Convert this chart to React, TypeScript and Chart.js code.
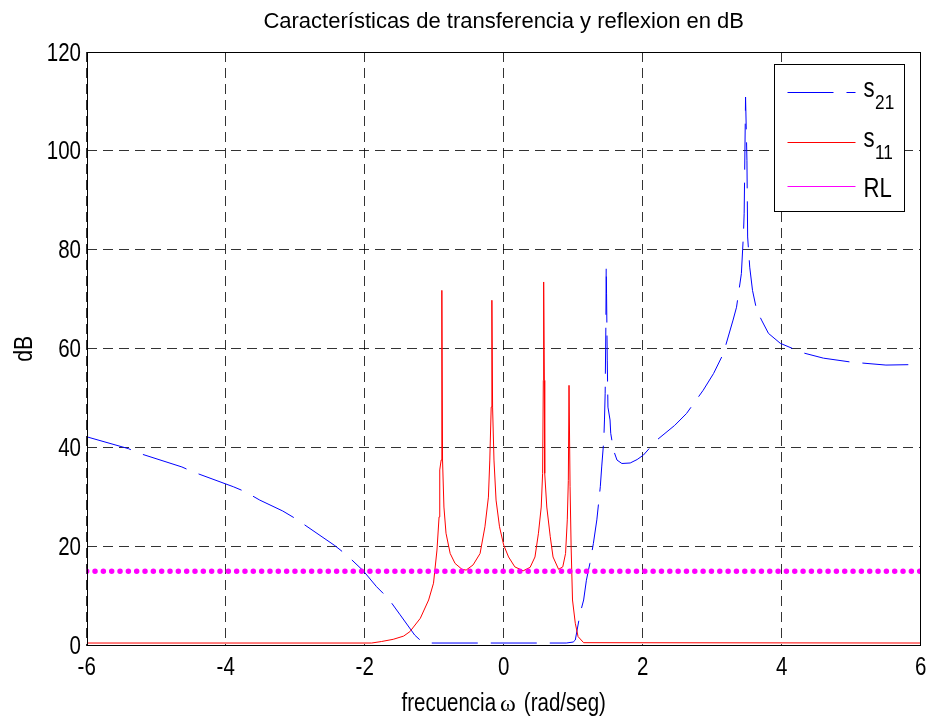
import { useEffect, useRef } from "react";
import { Chart, registerables } from "chart.js";

Chart.register(...registerables);

// Frequency axis (rad/seg) and dB values for each curve
const s21Freq = [
  -6.0, -5.4, -5.23, -4.63, -4.47, -3.89, -3.72, -3.51, -3.18, -3.0, -2.43, -2.26, -2.02, -1.83,
  -1.66, -1.49, -1.28, -1.18, -1.08, 0.9, 1.0, 1.03, 1.1, 1.15, 1.19, 1.24, 1.29, 1.34, 1.39, 1.41,
  1.44, 1.45, 1.46, 1.47, 1.475, 1.48, 1.49, 1.5, 1.53, 1.54, 1.58, 1.63, 1.7, 1.82, 1.92, 2.01,
  2.2, 2.46, 2.63, 2.87, 3.02, 3.16, 3.3, 3.35, 3.42, 3.45, 3.46, 3.48, 3.5, 3.51, 3.54, 3.58,
  3.64, 3.71, 3.81, 3.98, 4.3, 4.6, 5.0, 5.5, 5.9, 6.0,
];
const s21Db = [
  42.2, 39.8, 38.8, 36.1, 35.1, 32.1, 31.1, 29.4, 27.2, 25.7, 20.2, 18.3, 15.1, 11.9,
  9.5, 6.2, 2.1, 0.8, 0.5, 0.5, 0.7, 1.1, 6.5, 9.2, 13.2, 16.6, 20.6, 25.4, 32.1, 36.1,
  41.5, 45.6, 51.0, 64.4, 76.7, 71.1, 57.7, 48.2, 45.6, 42.9, 39.5, 37.5, 36.8, 36.9, 37.6, 38.5,
  41.5, 44.5, 46.9, 51.6, 55.0, 59.0, 65.8, 68.4, 75.2, 83.3, 87.4, 110.9, 98.0, 82.6, 76.5, 71.8,
  67.8, 65.8, 63.1, 61.1, 59.2, 58.1, 57.3, 56.7, 56.8, 57.0,
];

const s11Freq = [
  -6.0, -1.9, -1.76, -1.59, -1.44, -1.35, -1.2, -1.08, -1.01, -0.96, -0.93, -0.92, -0.9, -0.89,
  -0.88, -0.86, -0.83, -0.77, -0.7, -0.6, -0.54, -0.44, -0.34, -0.27, -0.22, -0.2, -0.18, -0.17,
  -0.16, -0.14, -0.11, -0.06, 0.0, 0.07, 0.16, 0.28, 0.38, 0.45, 0.5, 0.54, 0.56, 0.57, 0.575,
  0.585, 0.59, 0.62, 0.67, 0.71, 0.79, 0.85, 0.89, 0.915, 0.93, 0.94, 0.955, 0.97, 0.99, 1.03,
  1.07, 1.15, 6.0,
];
const s11Db = [
  0.5, 0.5, 0.8, 1.25, 1.9, 2.8, 5.5, 9.2, 12.6, 19.3, 26.0, 35.5, 37.5, 71.8,
  37.5, 28.0, 22.7, 18.6, 16.6, 15.4, 15.25, 16.3, 18.6, 24.0, 30.0, 37.5, 48.2, 69.8,
  48.2, 37.5, 29.4, 24.0, 20.3, 17.9, 15.9, 15.1, 15.8, 17.9, 22.7, 28.0, 34.8, 53.6, 73.5,
  53.6, 34.8, 28.0, 22.0, 17.9, 15.4, 15.9, 18.6, 25.4, 33.4, 52.6, 32.1, 20.0, 9.2, 4.5,
  1.8, 0.57, 0.5,
];

const rlFreq = [-6, 6];
const rlDb = [15, 15];

const xTickValues = [-6, -4, -2, 0, 2, 4, 6];
const yTickValues = [0, 20, 40, 60, 80, 100, 120];

const titleText = "Características de transferencia y reflexion en dB";
const xLabelWord = "frecuencia";
const xLabelSymbol = "ω";
const xLabelUnits = "(rad/seg)";
const yLabelText = "dB";

const legendEntries = [
  { name: "s", sub: "21" },
  { name: "s", sub: "11" },
  { name: "RL", sub: "" },
];

const BLUE = "#0000ff";
const RED = "#ff0000";
const MAGENTA = "#ff00ff";
const REGULAR = "'Liberation Sans', Arial, sans-serif";
const SERIF = "'Liberation Serif', 'DejaVu Serif', serif";
const SQUEEZE = 0.82; // horizontal compression for the narrow label lettering
const S21_DASH = [46, 13];

const toPoints = (xs: number[], ys: number[]) => xs.map((x, i) => ({ x, y: ys[i] }));

// Draws horizontally condensed text; returns the drawn width
function narrowText(
  ctx: CanvasRenderingContext2D,
  text: string,
  x: number,
  y: number,
  size: number,
  align: "left" | "center" | "right" = "left",
  family: string = REGULAR,
  squeeze: number = SQUEEZE
) {
  ctx.save();
  ctx.font = `${size}px ${family}`;
  ctx.textAlign = "left";
  ctx.textBaseline = "alphabetic";
  const w = ctx.measureText(text).width * squeeze;
  const left = align === "center" ? x - w / 2 : align === "right" ? x - w : x;
  ctx.translate(left, y);
  ctx.scale(squeeze, 1);
  ctx.fillText(text, 0, 0);
  ctx.restore();
  return w;
}

function narrowWidth(ctx: CanvasRenderingContext2D, text: string, size: number, family = REGULAR, squeeze = SQUEEZE) {
  ctx.save();
  ctx.font = `${size}px ${family}`;
  const w = ctx.measureText(text).width * squeeze;
  ctx.restore();
  return w;
}

const decorPlugin = {
  id: "decor",
  afterDatasetsDraw(chart: any) {
    const { ctx, chartArea: a } = chart;
    ctx.save();

    // axes box
    ctx.setLineDash([]);
    ctx.strokeStyle = "#000";
    ctx.lineWidth = 1;
    const l = Math.round(a.left) + 0.5;
    const t = Math.round(a.top) + 0.5;
    const r = Math.round(a.right) - 0.5;
    const b = Math.round(a.bottom) - 0.5;
    ctx.strokeRect(l, t, r - l, b - t);

    // legend box in the upper right corner
    const bx = Math.round(a.right - 147) + 0.5;
    const by = Math.round(a.top + 12) + 0.5;
    const bw = 130;
    const bh = 147;
    ctx.fillStyle = "#fff";
    ctx.fillRect(bx, by, bw, bh);
    ctx.strokeStyle = "#000";
    ctx.strokeRect(bx, by, bw, bh);

    const rowsY = [28, 78, 122];
    const colors = [BLUE, RED, MAGENTA];
    const lineX0 = bx + 13;
    const lineX1 = bx + 81;
    for (let i = 0; i < legendEntries.length; i++) {
      const entry = legendEntries[i];
      const y = by + rowsY[i];
      ctx.save();
      ctx.beginPath();
      ctx.setLineDash(i === 0 ? S21_DASH : []);
      ctx.strokeStyle = colors[i];
      ctx.lineWidth = 1;
      ctx.moveTo(lineX0, y);
      ctx.lineTo(lineX1, y);
      ctx.stroke();
      ctx.restore();

      ctx.fillStyle = "#000";
      const tx = bx + 89;
      if (entry.sub) {
        const w = narrowText(ctx, entry.name, tx, y + 4, 27);
        narrowText(ctx, entry.sub, tx + w + 0.5, y + 16, 21);
      } else {
        narrowText(ctx, entry.name, tx, y + 10, 27);
      }
    }

    ctx.restore();
  },
  afterDraw(chart: any) {
    const { ctx, chartArea: a, scales } = chart;
    const cx = (a.left + a.right) / 2;
    ctx.save();
    ctx.fillStyle = "#000";

    // tick labels
    for (const v of xTickValues) {
      narrowText(ctx, String(v), scales.x.getPixelForValue(v), a.bottom + 29.5, 25, "center");
    }
    for (const v of yTickValues) {
      narrowText(ctx, String(v), a.left - 5.7, scales.y.getPixelForValue(v) + 8.5, 25, "right");
    }

    // title
    ctx.font = `22px ${REGULAR}`;
    ctx.textAlign = "center";
    ctx.textBaseline = "alphabetic";
    ctx.fillText(titleText, cx, 28);

    // x axis label with a smaller omega
    const base = 711;
    const w1 = narrowWidth(ctx, xLabelWord, 25);
    const w2 = narrowWidth(ctx, xLabelSymbol, 24, SERIF, 1);
    const w3 = narrowWidth(ctx, xLabelUnits, 25);
    const gap1 = 4;
    const gap2 = 8;
    const total = w1 + gap1 + w2 + gap2 + w3;
    let x = cx - total / 2;
    narrowText(ctx, xLabelWord, x, base, 25);
    x += w1 + gap1;
    narrowText(ctx, xLabelSymbol, x, base, 24, "left", SERIF, 1);
    x += w2 + gap2;
    narrowText(ctx, xLabelUnits, x, base, 25);

    // y axis label
    ctx.translate(31.5, (a.top + a.bottom) / 2);
    ctx.rotate(-Math.PI / 2);
    narrowText(ctx, yLabelText, 0, 0, 26, "center");
    ctx.restore();
  },
};

export default function App() {
  const canvasRef = useRef<HTMLCanvasElement | null>(null);

  useEffect(() => {
    const canvas = canvasRef.current;
    if (!canvas) return;

    const gridColor = "rgba(0,0,0,0.8)";

    const chart = new Chart(canvas, {
      type: "line",
      data: {
        datasets: [
          {
            label: "RL",
            data: toPoints(rlFreq, rlDb),
            borderColor: MAGENTA,
            borderWidth: 5.5,
            borderDash: [0, 8.33],
            borderCapStyle: "round",
            pointRadius: 0,
            order: 0,
          },
          {
            label: "s11",
            data: toPoints(s11Freq, s11Db),
            borderColor: RED,
            borderWidth: 1,
            pointRadius: 0,
            tension: 0,
            order: 1,
          },
          {
            label: "s21",
            data: toPoints(s21Freq, s21Db),
            borderColor: BLUE,
            borderWidth: 1,
            borderDash: S21_DASH,
            pointRadius: 0,
            tension: 0,
            order: 2,
          },
        ],
      },
      options: {
        responsive: false,
        animation: false,
        devicePixelRatio: 1,
        layout: { padding: { top: 52, right: 10.3, left: 0, bottom: 0 } },
        plugins: {
          legend: { display: false },
          tooltip: { enabled: false },
          title: { display: false },
        },
        scales: {
          x: {
            type: "linear",
            min: xTickValues[0],
            max: xTickValues[xTickValues.length - 1],
            afterBuildTicks: (scale: any) => {
              scale.ticks = xTickValues.map((v) => ({ value: v }));
            },
            afterFit: (scale: any) => {
              scale.height = 72.5;
            },
            ticks: { display: false, autoSkip: false },
            grid: { color: gridColor, lineWidth: 1, drawTicks: false },
            border: { display: false, dash: [10, 6] },
          },
          y: {
            type: "linear",
            min: yTickValues[0],
            max: yTickValues[yTickValues.length - 1],
            afterBuildTicks: (scale: any) => {
              scale.ticks = yTickValues.map((v) => ({ value: v }));
            },
            afterFit: (scale: any) => {
              scale.width = 86.7;
            },
            ticks: { display: false, autoSkip: false },
            grid: { color: gridColor, lineWidth: 1, drawTicks: false },
            border: { display: false, dash: [10, 6] },
          },
        },
      },
      plugins: [decorPlugin],
    } as any);

    return () => chart.destroy();
  }, []);

  return (
    <div style={{ position: "absolute", left: 0, top: 0, width: 931, height: 718, background: "#fff" }}>
      <canvas ref={canvasRef} width={931} height={718} style={{ display: "block" }} />
    </div>
  );
}
